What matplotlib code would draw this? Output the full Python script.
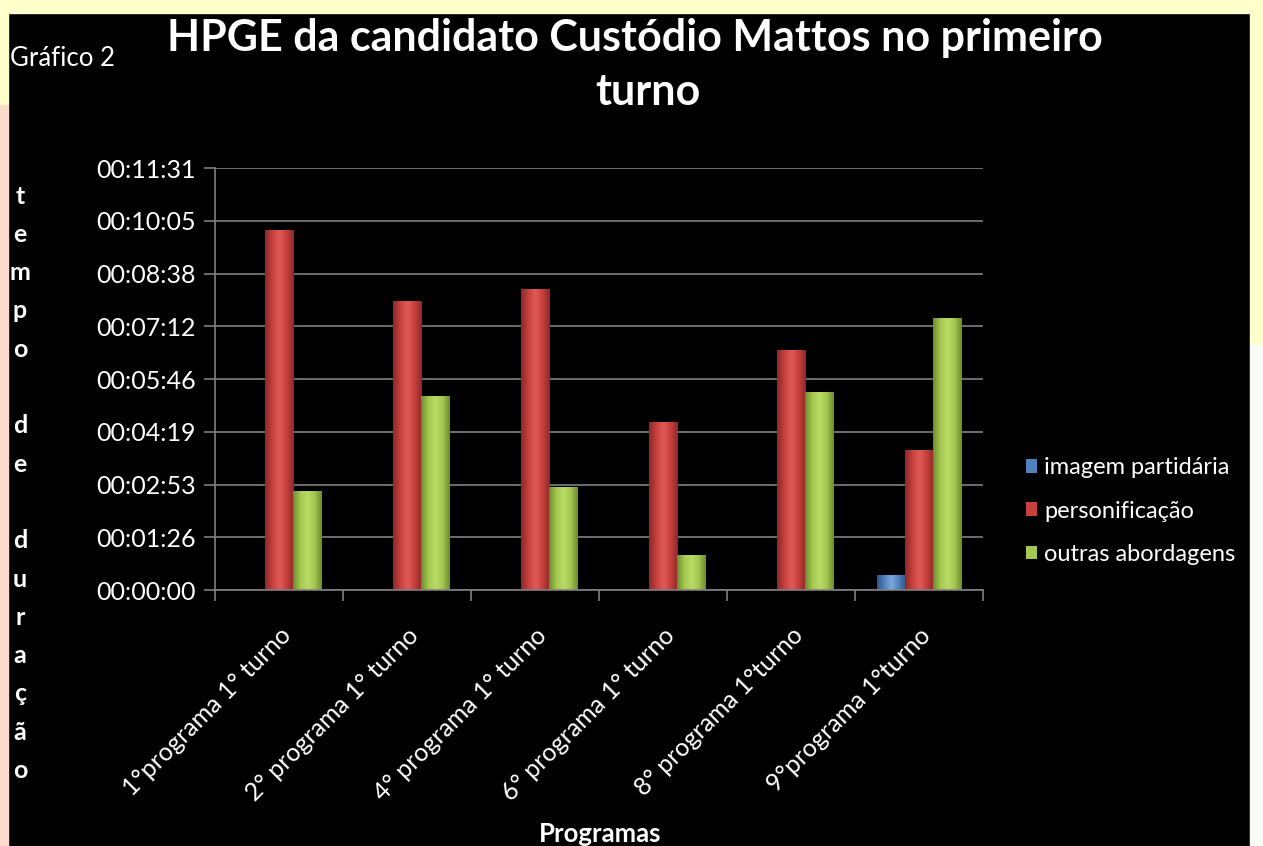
import matplotlib.pyplot as plt
from matplotlib.patches import Rectangle
from matplotlib.colors import LinearSegmentedColormap
from matplotlib.ticker import FixedLocator, FuncFormatter
import numpy as np

programas = ["1°programa 1° turno", "2° programa 1° turno", "4° programa 1° turno",
             "6° programa 1° turno", "8° programa 1°turno", "9°programa 1°turno"]

# duração em segundos
imagem_partidaria = [0, 0, 0, 0, 0, 25]
personificacao = [590, 473, 493, 275, 393, 229]
outras_abordagens = [162, 318, 169, 57, 324, 446]

series = [
    ("imagem partidária", imagem_partidaria, "#4F81BD", "#2F5689", "#7FA8DC"),
    ("personificação", personificacao, "#C8403E", "#8E2826", "#DE5B58"),
    ("outras abordagens", outras_abordagens, "#A3C750", "#6E8C30", "#B9DB66"),
]

plt.rcParams['font.family'] = ['Lato', 'DejaVu Sans']

fig = plt.figure(figsize=(12.63, 8.46), dpi=100)
fig.patch.set_facecolor("black")

# moldura amarela / rosada em volta do gráfico
W, H = 1263, 846
def frame(x, y, w, h, color):
    fig.patches.append(Rectangle((x / W, 1 - (y + h) / H), w / W, h / H,
                                 transform=fig.transFigure, color=color, zorder=0))
frame(0, 0, W, 13, "#FFFFCC")
frame(0, 0, 8, 105, "#FFFFCC")
frame(0, 105, 8, H - 105, "#FDDCCD")
frame(1250, 0, 13, 345, "#FFFFCC")
frame(1250, 345, 13, H - 345, "#FBFBF8")

ax = fig.add_axes([215 / W, 1 - 590 / H, (983 - 215) / W, (590 - 168) / H])
ax.set_facecolor("black")

x = np.arange(len(programas))
width = 0.22
grad = np.linspace(0, 1, 64).reshape(1, -1)
for i, (nome, vals, cor, escuro, claro) in enumerate(series):
    vals = np.array(vals, dtype=float)
    vals[vals == 0] = np.nan
    bars = ax.bar(x + (i - 1) * width, vals, width, color=cor, edgecolor="none",
                  label=nome, zorder=3)
    cmap = LinearSegmentedColormap.from_list(nome, [escuro, cor, claro, cor, escuro])
    for b in bars:
        h = b.get_height()
        if not np.isfinite(h):
            continue
        x0 = b.get_x()
        im = ax.imshow(grad, extent=[x0, x0 + b.get_width(), 0, h], cmap=cmap,
                       aspect="auto", zorder=4)
        im.set_clip_path(b)

step = 86.4
ax.set_ylim(0, step * 8)
ax.set_xlim(-0.5, len(programas) - 0.5)
ax.yaxis.set_major_locator(FixedLocator([step * k for k in range(9)]))

def hms(v, pos):
    s = int(round(v))
    return "%02d:%02d:%02d" % (s // 3600, (s % 3600) // 60, s % 60)
ax.yaxis.set_major_formatter(FuncFormatter(hms))

ax.grid(axis="y", color="#808080", linewidth=1.2, zorder=0)
for side in ["top", "right"]:
    ax.spines[side].set_visible(False)
for side in ["left", "bottom"]:
    ax.spines[side].set_color("#808080")
    ax.spines[side].set_linewidth(1.2)
    ax.spines[side].set_zorder(5)

ax.set_xticks(np.arange(len(programas) + 1) - 0.5, minor=False)
ax.set_xticklabels([])
ax.set_xticks(x, minor=True)
ax.set_xticklabels(programas, minor=True, rotation=45, ha="right",
                   rotation_mode="anchor", color="white", fontsize=18)
ax.tick_params(axis="x", which="major", length=8, color="#808080", width=1.2)
ax.tick_params(axis="x", which="minor", length=0, pad=24)
ax.tick_params(axis="y", length=8, color="#808080", width=1.2,
               labelcolor="white", labelsize=18, pad=6)

fig.text(635 / W, 1 - 38 / H, "HPGE da candidato Custódio Mattos no primeiro",
         color="white", fontsize=31, fontweight="bold", ha="center", va="center")
fig.text(648 / W, 1 - 92 / H, "turno", color="white", fontsize=31,
         fontweight="bold", ha="center", va="center")
fig.text(10 / W, 1 - 58 / H, "Gráfico 2", color="white", fontsize=18.5,
         ha="left", va="center")

letras = "tempo de duração"
for k, ch in enumerate(letras):
    if ch != " ":
        fig.text(20 / W, 1 - (196 + k * 38.3) / H, ch, color="white",
                 fontsize=18, fontweight="bold", ha="center", va="center")

fig.text(600 / W, 1 - 834 / H, "Programas", color="white", fontsize=18.5,
         fontweight="bold", ha="center", va="center")

leg = ax.legend(loc="center left", bbox_to_anchor=(1.04, 0.187), frameon=False,
                fontsize=17, handlelength=0.5, handleheight=0.5,
                handletextpad=0.3, labelspacing=0.95, borderpad=0,
                labelcolor="white")

fig.savefig("out.png", dpi=100, facecolor=fig.get_facecolor())
